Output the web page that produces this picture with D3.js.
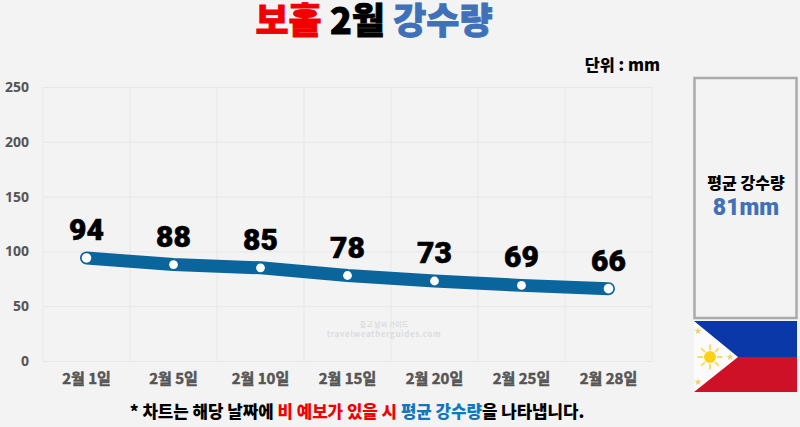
<!DOCTYPE html>
<head>
	<meta charset="utf-8">
	<title>보홀 2월 강수량</title>
</head>
<style>
html, body { margin: 0; padding: 0; background: #f3f3f4; }
svg { display: block; }
text { font-family: "Noto Sans CJK KR", "Noto Sans", sans-serif; }
.grid line { stroke: #e7e7e9; stroke-width: 1px; }
.axis path, .axis line { display: none; }
.axis text { fill: #555; font-weight: 700; }
.heavy { font-weight: 900; }
</style>
<svg id="svg" width="800" height="427"></svg>
<script src="https://d3js.org/d3.v7.min.js"></script>
<script>

var days = ["2월 1일", "2월 5일", "2월 10일", "2월 15일", "2월 20일", "2월 25일", "2월 28일"];
var rain = [94, 88, 85, 78, 73, 69, 66];
var yTicks = [0, 50, 100, 150, 200, 250];
var average = "81mm";

var svg = d3.select("svg");

var x = d3.scaleBand().domain(days).range([43, 652]);
var y = d3.scaleLinear().domain([0, 250]).range([361, 87]);

// grid
var grid = svg.append("g").attr("class", "grid");
grid.selectAll(".h")
    .data(yTicks)
    .enter().append("line")
      .attr("x1", 43).attr("x2", 652)
      .attr("y1", function(d) { return y(d) + 0.5; })
      .attr("y2", function(d) { return y(d) + 0.5; });
grid.selectAll(".v")
    .data(days.concat(["end"]))
    .enter().append("line")
      .attr("x1", function(d) { return d == "end" ? 652 : x(d); })
      .attr("x2", function(d) { return d == "end" ? 652 : x(d); })
      .attr("y1", 87).attr("y2", 361);

// axes
var yAxis = svg.append("g").attr("class", "axis")
    .attr("transform", "translate(29,0)")
    .call(d3.axisLeft(y).tickValues(yTicks).tickSize(0).tickPadding(0));
yAxis.selectAll("text").style("font-size", "14px").style("font-family", "'Noto Sans'");

var xAxis = svg.append("g").attr("class", "axis")
    .attr("transform", "translate(0,373)")
    .call(d3.axisBottom(x).tickSize(0).tickPadding(0));
xAxis.selectAll("text")
    .style("font-size", "15px")
    .attr("stroke", "#555").attr("stroke-width", 0.5);

// watermark
svg.append("text").attr("x", 384).attr("y", 327).attr("text-anchor", "middle")
    .attr("fill", "#dcdcde").style("font-size", "7px").attr("font-weight", 700).text("춥고 날씨 가이드");
svg.append("text").attr("x", 384).attr("y", 337).attr("text-anchor", "middle")
    .attr("fill", "#dcdcde").style("font-size", "8px").attr("font-weight", 700)
    .style("letter-spacing", "0.6px").text("travelweatherguides.com");

// line
var line = d3.line()
    .x(function(d, i) { return x(days[i]) + x.bandwidth() / 2; })
    .y(function(d) { return y(d); });

svg.append("path")
    .datum(rain)
    .attr("d", line)
    .attr("fill", "none")
    .attr("stroke", "#0b659d")
    .attr("stroke-width", 13)
    .attr("stroke-linecap", "round")
    .attr("stroke-linejoin", "round");

svg.selectAll(".dot")
    .data(rain)
    .enter().append("circle")
      .attr("cx", function(d, i) { return x(days[i]) + x.bandwidth() / 2; })
      .attr("cy", function(d) { return y(d); })
      .attr("r", function(d, i) { return i == 0 || i == rain.length - 1 ? 4.8 : 4.4; })
      .attr("fill", "#fff");

svg.selectAll(".val")
    .data(rain)
    .enter().append("text")
      .attr("class", "heavy")
      .attr("x", function(d, i) { return x(days[i]) + x.bandwidth() / 2; })
      .attr("y", function(d) { return y(d) - 18; })
      .attr("text-anchor", "middle")
      .attr("fill", "#000")
      .attr("stroke", "#000").attr("stroke-width", 0.6)
      .style("font-size", "30px")
      .style("font-family", "Roboto")
      .text(function(d) { return d; });

// title
var title = svg.append("text").attr("class", "heavy")
    .attr("x", 374).attr("y", 34).attr("text-anchor", "middle")
    .attr("stroke-width", 0.8)
    .style("font-size", "36px");
title.append("tspan").attr("fill", "#f00000").attr("stroke", "#f00000").text("보홀");
title.append("tspan").attr("fill", "#000").attr("stroke", "#000").text(" 2월 ");
title.append("tspan").attr("fill", "#3f70b8").attr("stroke", "#3f70b8").text("강수량");

// unit
svg.append("text").attr("class", "heavy")
    .attr("x", 660).attr("y", 71).attr("text-anchor", "end")
    .attr("fill", "#000").style("font-size", "16.3px").text("단위 : mm");

// average box
svg.append("rect")
    .attr("x", 694.5).attr("y", 78).attr("width", 102).attr("height", 240)
    .attr("fill", "none").attr("stroke", "#aaaaad").attr("stroke-width", 2.5);
svg.append("text").attr("class", "heavy")
    .attr("x", 746).attr("y", 189).attr("text-anchor", "middle")
    .attr("fill", "#000").style("font-size", "16px").text("평균 강수량");
svg.append("text").attr("class", "heavy")
    .attr("x", 746).attr("y", 215).attr("text-anchor", "middle")
    .attr("fill", "#3f70b8").style("font-size", "23px")
    .style("font-family", "Roboto").text(average);

// flag
var flag = svg.append("g").attr("transform", "translate(694,321)");
flag.append("rect").attr("width", 103).attr("height", 36).attr("fill", "#0a38a8");
flag.append("rect").attr("y", 36).attr("width", 103).attr("height", 35).attr("fill", "#ce1126");
flag.append("path").attr("d", "M0,0L44,36L0,71Z").attr("fill", "#fbfbfb");
flag.append("circle").attr("cx", 16).attr("cy", 36).attr("r", 6).attr("fill", "#fcd116");
d3.range(8).forEach(function(i) {
  var a = i * Math.PI / 4;
  flag.append("line")
      .attr("x1", 16 + 7 * Math.cos(a)).attr("y1", 36 + 7 * Math.sin(a))
      .attr("x2", 16 + 12.5 * Math.cos(a)).attr("y2", 36 + 12.5 * Math.sin(a))
      .attr("stroke", "#f8dc6a").attr("stroke-width", 2);
});
[[4, 10], [36, 36], [4, 61]].forEach(function(p) {
  flag.append("path")
      .attr("d", d3.symbol(d3.symbolStar, 16)())
      .attr("transform", "translate(" + p[0] + "," + p[1] + ")")
      .attr("fill", "#ecd06a");
});

// footnote
var note = svg.append("text").attr("class", "heavy")
    .attr("x", 357).attr("y", 418).attr("text-anchor", "middle")
    .style("font-size", "16.8px");
note.append("tspan").attr("fill", "#000").text("* 차트는 해당 날짜에 ");
note.append("tspan").attr("fill", "#f00000").text("비 예보가 있을 시 ");
note.append("tspan").attr("fill", "#0f76c0").text("평균 강수량");
note.append("tspan").attr("fill", "#000").text("을 나타냅니다.");

</script>
